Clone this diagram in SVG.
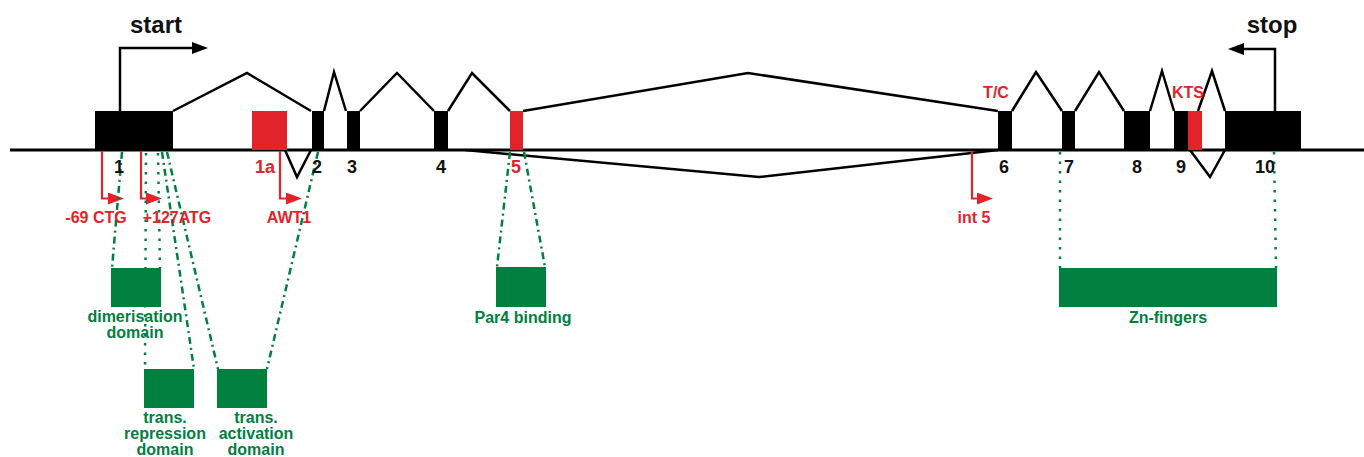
<svg xmlns="http://www.w3.org/2000/svg" width="1364" height="457" viewBox="0 0 1364 457">
<defs>
<style>
text{font-family:"Liberation Sans",Arial,sans-serif;font-weight:bold;text-anchor:middle}
.ex{fill:#000}
.exr{fill:#e2232a}
.num{font-size:18px;fill:#111}
.numr{font-size:18px;fill:#e2232a}
.big{font-size:24px;fill:#111}
.rl{font-size:16px;fill:#e2232a}
.gl{font-size:16px;fill:#00803f}
.gbox{fill:#00803f}
.intr{fill:none;stroke:#000;stroke-width:2.5;stroke-linejoin:miter}
.red{fill:none;stroke:#e2232a;stroke-width:2.2}
.blk{fill:none;stroke:#000;stroke-width:2.5}
.gdd{fill:none;stroke:#00803f;stroke-width:2.5;stroke-dasharray:7 4 2 4}
.gdot{fill:none;stroke:#00803f;stroke-width:2.5;stroke-dasharray:2.5 7}
</style>
<marker id="ra" markerUnits="userSpaceOnUse" markerWidth="16" markerHeight="12" viewBox="0 0 16 12" refX="0" refY="6" orient="auto"><path d="M0,0 L16,6 L0,12 z" fill="#e2232a"/></marker>
<marker id="ba" markerUnits="userSpaceOnUse" markerWidth="16" markerHeight="12" viewBox="0 0 16 12" refX="0" refY="6" orient="auto"><path d="M0,0 L16,6 L0,12 z" fill="#000"/></marker>
</defs>
<rect width="1364" height="457" fill="#fff"/>

<g id="connectors">
<line x1="10" y1="150" x2="1364" y2="150" stroke="#000" stroke-width="3"/>
<polyline class="intr" points="173,111 247,73 311,111"/>
<polyline class="intr" points="285,150 297,177 311,150"/>
<polyline class="intr" points="324,111 334,72 346,111"/>
<polyline class="intr" points="360,111 397,73 434,111"/>
<polyline class="intr" points="448,111 472,73 510,111"/>
<polyline class="intr" points="523,111 748,73 998,111"/>
<polyline class="intr" points="465,150 759,177 998,150"/>
<polyline class="intr" points="1012,111 1036,72 1062,111"/>
<polyline class="intr" points="1075,111 1099,72 1124,111"/>
<polyline class="intr" points="1150,111 1162,71 1174,111"/>
<polyline class="intr" points="1198,111 1212,71 1225,111"/>
<polyline class="intr" points="1190,150 1210,177 1225,150"/>
<path class="blk" d="M120,111 V48 H192" marker-end="url(#ba)"/>
<path class="blk" d="M1275,111 V49 H1244" marker-end="url(#ba)"/>
<path class="red" d="M102,151 V198.5 H108" marker-end="url(#ra)"/>
<path class="red" d="M141,151 V198.5 H146" marker-end="url(#ra)"/>
<path class="red" d="M280,151 V198.5 H286" marker-end="url(#ra)"/>
<path class="red" d="M972,151 V198.5 H977" marker-end="url(#ra)"/>
<line class="gdd" x1="122" y1="152" x2="112" y2="268"/>
<line class="gdot" x1="146" y1="153" x2="145" y2="369"/>
<line class="gdot" x1="158" y1="153" x2="160" y2="268"/>
<line class="gdd" x1="162" y1="152" x2="194" y2="369"/>
<line class="gdd" x1="167" y1="152" x2="218" y2="369"/>
<line class="gdd" x1="318" y1="152" x2="267" y2="369"/>
<line class="gdd" x1="510" y1="152" x2="497" y2="267"/>
<line class="gdd" x1="524" y1="152" x2="545" y2="267"/>
<line class="gdot" x1="1060" y1="152" x2="1060" y2="268"/>
<line class="gdot" x1="1274" y1="152" x2="1276" y2="268"/>
</g>

<g id="exon1"><rect class="ex" x="95" y="111" width="78" height="39"/><text class="num" x="119" y="173">1</text></g>
<g id="exon1a"><rect class="exr" x="252" y="111" width="35" height="39"/><text class="numr" x="265" y="173">1a</text></g>
<g id="exon2"><rect class="ex" x="312" y="111" width="12" height="39"/><text class="num" x="317" y="173">2</text></g>
<g id="exon3"><rect class="ex" x="347" y="111" width="13" height="39"/><text class="num" x="352" y="173">3</text></g>
<g id="exon4"><rect class="ex" x="434" y="111" width="14" height="39"/><text class="num" x="441" y="173">4</text></g>
<g id="exon5"><rect class="exr" x="510" y="111" width="13" height="39"/><text class="numr" x="516" y="173">5</text></g>
<g id="exon6"><rect class="ex" x="998" y="111" width="14" height="39"/><text class="num" x="1004" y="173">6</text></g>
<g id="exon7"><rect class="ex" x="1062" y="111" width="13" height="39"/><text class="num" x="1069" y="173">7</text></g>
<g id="exon8"><rect class="ex" x="1124" y="111" width="26" height="39"/><text class="num" x="1137" y="173">8</text></g>
<g id="exon9"><rect class="ex" x="1174" y="111" width="14" height="39"/><rect class="exr" x="1188" y="111" width="14" height="39"/><text class="num" x="1181" y="173">9</text></g>
<g id="exon10"><rect class="ex" x="1225" y="111" width="76" height="39"/><text class="num" x="1265" y="173">10</text></g>

<g id="start"><text class="big" x="156" y="33">start</text></g>
<g id="stop"><text class="big" x="1272" y="33">stop</text></g>
<g id="tc"><text class="rl" x="996" y="98">T/C</text></g>
<g id="kts"><text class="rl" x="1188" y="98">KTS</text></g>

<g id="ctg"><text class="rl" x="96" y="223">-69 CTG</text></g>
<g id="atg"><text class="rl" x="177" y="223">+127ATG</text></g>
<g id="awt1"><text class="rl" x="289" y="223">AWT1</text></g>
<g id="int5"><text class="rl" x="974" y="223">int 5</text></g>

<g id="dimerisation"><rect class="gbox" x="111" y="268" width="50" height="39"/><text class="gl" x="135" y="322">dimerisation</text><text class="gl" x="135" y="338">domain</text></g>
<g id="repression"><rect class="gbox" x="144" y="369" width="50" height="39"/><text class="gl" x="165" y="423">trans.</text><text class="gl" x="165" y="439">repression</text><text class="gl" x="165" y="455">domain</text></g>
<g id="activation"><rect class="gbox" x="217" y="369" width="50" height="39"/><text class="gl" x="256" y="423">trans.</text><text class="gl" x="256" y="439">activation</text><text class="gl" x="256" y="455">domain</text></g>
<g id="par4"><rect class="gbox" x="496" y="267" width="50" height="40"/><text class="gl" x="523" y="323">Par4 binding</text></g>
<g id="znfingers"><rect class="gbox" x="1059" y="268" width="218" height="39"/><text class="gl" x="1168" y="323">Zn-fingers</text></g>
</svg>
